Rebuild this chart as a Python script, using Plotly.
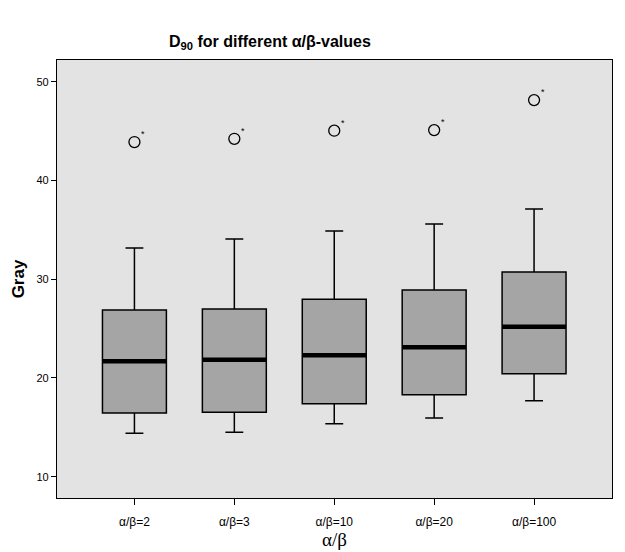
import plotly.graph_objects as go

categories = ["α/β=2", "α/β=3", "α/β=10", "α/β=20", "α/β=100"]
lower_whisker = [14.4, 14.5, 15.35, 15.93, 17.68]
q1 = [16.46, 16.53, 17.38, 18.3, 20.42]
median = [21.7, 21.83, 22.31, 23.12, 25.18]
q3 = [26.87, 26.97, 27.98, 28.9, 30.72]
upper_whisker = [33.15, 34.06, 34.87, 35.58, 37.1]
outliers = [43.89, 44.22, 45.04, 45.1, 48.14]

fig = go.Figure()

fig.add_trace(go.Box(
    x=categories, q1=q1, median=median, q3=q3,
    lowerfence=lower_whisker, upperfence=upper_whisker,
    fillcolor="#a5a5a5", line=dict(color="black", width=1.5),
    width=0.64, whiskerwidth=0.28, boxpoints=False, hoverinfo="skip",
    showlegend=False,
))

# thick median bars
fig.add_trace(go.Box(
    x=categories, q1=median, median=median, q3=median,
    lowerfence=median, upperfence=median,
    fillcolor="black", line=dict(color="black", width=4.5),
    width=0.64, whiskerwidth=0, boxpoints=False, hoverinfo="skip",
    showlegend=False,
))

fig.add_trace(go.Scatter(
    x=categories, y=outliers, mode="markers",
    marker=dict(symbol="circle-open", size=11, color="black", line=dict(width=1.3)),
    showlegend=False, hoverinfo="skip",
))

for c, v in zip(categories, outliers):
    fig.add_annotation(x=c, y=v, text="*", showarrow=False, xshift=9, yshift=8,
                       font=dict(family="Liberation Sans", size=9, color="black"))

fig.add_annotation(
    xref="paper", yref="paper", x=0.384, y=1, yshift=18, xanchor="center", yanchor="middle",
    text="<b>D<sub>90</sub> for different α/β-values</b>", showarrow=False,
    font=dict(family="Liberation Sans", size=16, color="black"),
)

fig.update_layout(
    width=609, height=544,
    paper_bgcolor="white", plot_bgcolor="#e3e3e3",
    margin=dict(l=49, r=5, t=52, b=54),
    boxmode="overlay",
    xaxis=dict(
        type="category", range=[-0.775, 4.78],
        showline=True, linecolor="black", linewidth=1.2, mirror=True,
        ticks="outside", ticklen=6, tickcolor="black", showgrid=False,
        ticklabelstandoff=6,
        tickfont=dict(family="Liberation Sans", size=12, color="black"),
        title=dict(text="α/β", font=dict(family="Liberation Serif", size=19, color="black"), standoff=5),
    ),
    yaxis=dict(
        range=[7.84, 52.2], tickvals=[10, 20, 30, 40, 50],
        showline=True, linecolor="black", linewidth=1.2, mirror=True,
        ticks="outside", ticklen=5, tickcolor="black", showgrid=False, zeroline=False,
        tickfont=dict(family="Liberation Sans", size=11, color="black"),
        title=dict(text="<b>Gray</b>", font=dict(family="Liberation Sans", size=17, color="black"), standoff=7),
    ),
)

fig.write_html("out.html")
